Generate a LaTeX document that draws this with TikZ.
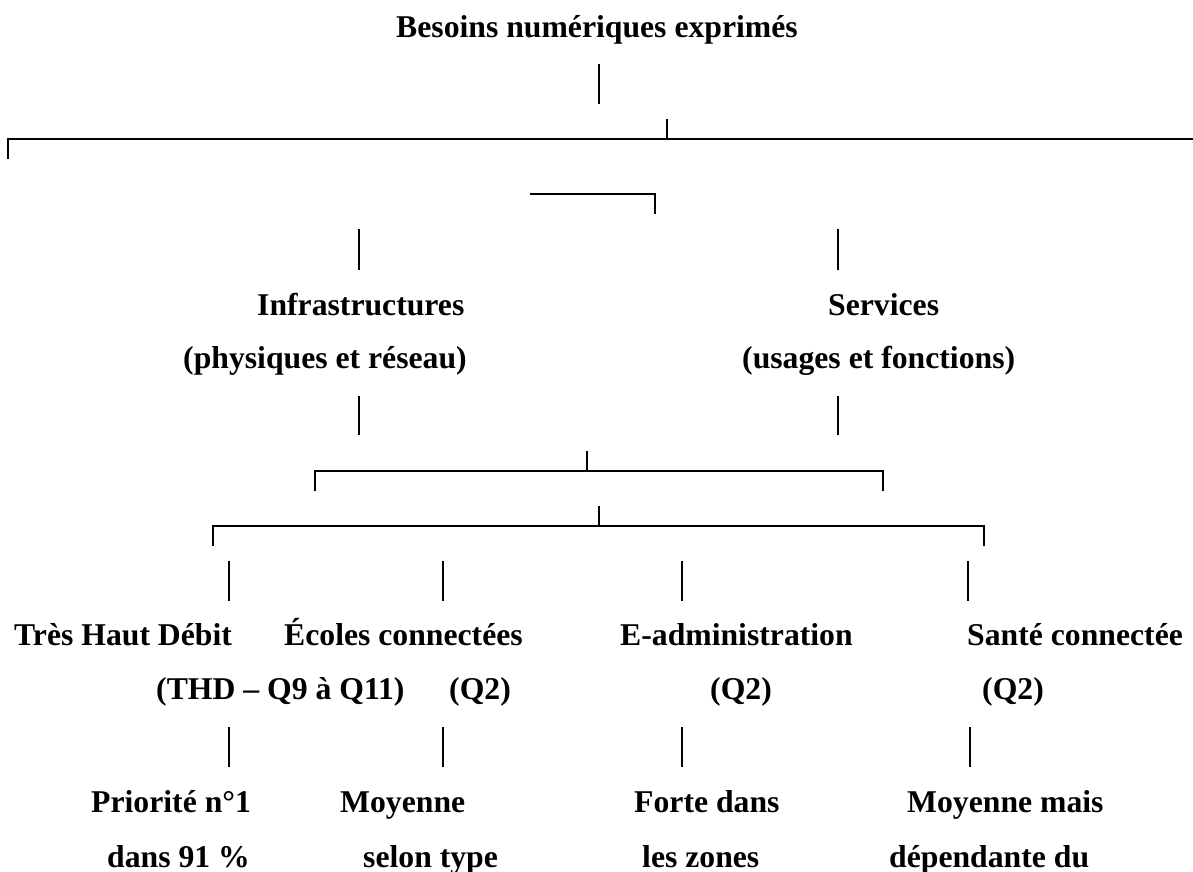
\documentclass[tikz,border=0pt]{standalone}
\usepackage{fontspec}
\setmainfont{Liberation Serif}
\begin{document}
\begin{tikzpicture}[x=1pt,y=-1pt,
  lbl/.style={anchor=base west,inner sep=0pt,font=\fontsize{31.7}{38}\selectfont\bfseries},
  ln/.style={line width=2pt,line cap=rect}]
\useasboundingbox[fill=white] (0,0) rectangle (1193,872);
% texts
\node[lbl] (title) at (396,38) {Besoins numériques exprimés};
\node[lbl] (infra) at (257,315) {Infrastructures};
\node[lbl] (infra2) at (183,368) {(physiques et réseau)};
\node[lbl] (serv) at (828,315) {Services};
\node[lbl] (serv2) at (742,368) {(usages et fonctions)};
\node[lbl] (thd) at (14,645) {Très Haut Débit};
\node[lbl] (ecol) at (284,645) {Écoles connectées};
\node[lbl] (eadm) at (620,645) {E-administration};
\node[lbl] (sant) at (967,645) {Santé connectée};
\node[lbl] (thd2) at (156,699) {(THD – Q9 à Q11)};
\node[lbl] (ecol2) at (449,699) {(Q2)};
\node[lbl] (eadm2) at (710,699) {(Q2)};
\node[lbl] (sant2) at (982,699) {(Q2)};
\node[lbl] (thd3) at (91,812) {Priorité n°1};
\node[lbl] (ecol3) at (340,812) {Moyenne};
\node[lbl] (eadm3) at (634,812) {Forte dans};
\node[lbl] (sant3) at (907,812) {Moyenne mais};
\node[lbl] (thd4) at (107,867) {dans 91 \%};
\node[lbl] (ecol4) at (363,867) {selon type};
\node[lbl] (eadm4) at (642,867) {les zones};
\node[lbl] (sant4) at (889,867) {dépendante du};
% lines
\draw[ln] (599,65) -- (599,103);
\draw[ln] (667,120) -- (667,139);
\draw[ln] (1195,139) -- (8,139) -- (8,158);
\draw[ln] (531,194) -- (655,194) -- (655,213);
\draw[ln] (359,230) -- (359,269);
\draw[ln] (838,230) -- (838,269);
\draw[ln] (359,397) -- (359,434);
\draw[ln] (838,397) -- (838,434);
\draw[ln] (587,452) -- (587,471);
\draw[ln] (315,490) -- (315,471) -- (883,471) -- (883,490);
\draw[ln] (599,507) -- (599,526);
\draw[ln] (213,545) -- (213,526) -- (984,526) -- (984,545);
\foreach \x in {229,443,682,968} \draw[ln] (\x,562) -- (\x,600);
\foreach \x in {229,443,682,970} \draw[ln] (\x,728) -- (\x,766);
\end{tikzpicture}
\end{document}
